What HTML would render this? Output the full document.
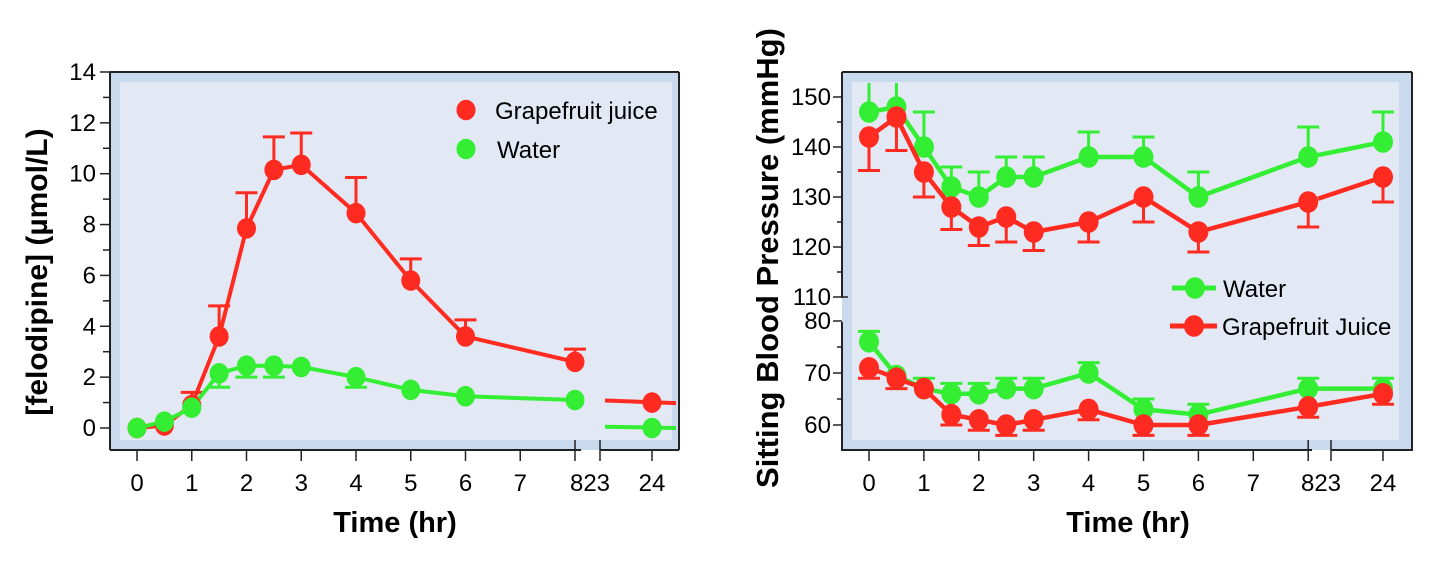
<!DOCTYPE html>
<html><head><meta charset="utf-8"><style>
html,body{margin:0;padding:0;background:#fff;width:1444px;height:572px;overflow:hidden}
text{font-family:"Liberation Sans Narrow","Liberation Sans",Arial,sans-serif}
.b{font-family:"Liberation Sans",Arial,sans-serif}
</style></head><body>
<svg id="s" width="1444" height="572" viewBox="0 0 1444 572" xmlns="http://www.w3.org/2000/svg"></svg>
<script>
const R="#ff2a20",G="#33ee33";
let h='';
function L(x1,y1,x2,y2,c,w){h+=`<line x1="${x1}" y1="${y1}" x2="${x2}" y2="${y2}" stroke="${c}" stroke-width="${w}"/>`;}
function C(x,y,c,r){h+=`<ellipse cx="${x}" cy="${y}" rx="${r||9.5}" ry="${(r||9.5)+0.8}" fill="${c}"/>`;}
function T(x,y,s,o){h+=`<text x="${x}" y="${y}" ${o||''}>${s}</text>`;}
function poly(pts,c,w){h+=`<polyline points="${pts.map(p=>p.join(',')).join(' ')}" fill="none" stroke="${c}" stroke-width="${w}" stroke-linejoin="round"/>`;}
const TF='font-size="24"';
// ---------- LEFT ----------
{
const X=t=>t==24?652:137+t*54.75, Y=v=>428-v*25.43;
h+=`<rect x="110" y="72" width="569" height="378" fill="#c9d9ee"/>`;
h+=`<rect x="120" y="82" width="552" height="358" fill="#e2e9f5"/>`;
L(110,72,679,72,"#222",2);L(679,72,679,450,"#222",2);
L(110,72,110,450,"#222",2);L(110,450,581,450,"#222",2);L(600,450,679,450,"#222",2);
for(let v=0;v<=14;v++){const y=Y(v);L(v%2?103:100,y,110,y,"#222",1.5);if(v%2==0)T(96,y+8,v,TF+' text-anchor="end"');}
[0,1,2,3,4,5,6,7,8,24].forEach(t=>{L(X(t),450,X(t),461,"#222",1.5);});
L(600,440,600,461,"#222",1.5);L(X(8),440,X(8),450,"#222",1.5);
[0,1,2,3,4,5,6,7].forEach(t=>T(X(t),491,t,TF+' text-anchor="middle"'));
T(590,491,"823",TF+' text-anchor="middle"');T(652,491,"24",TF+' text-anchor="middle"');
T(395,532,"Time (hr)",'class="b" font-size="29" font-weight="bold" text-anchor="middle"');
T(0,0,"[felodipine] (µmol/L)",'class="b" font-size="30" font-weight="bold" text-anchor="middle" transform="translate(47,272) rotate(-90)"');
const gt=[0,.5,1,1.5,2,2.5,3,4,5,6,8],gv=[0,.1,.9,3.6,7.85,10.15,10.35,8.45,5.8,3.6,2.6];
const ge={1:1.4,1.5:4.8,2:9.25,2.5:11.45,3:11.6,4:9.85,5:6.65,6:4.25,8:3.1};
const wv=[0,.25,.8,2.15,2.45,2.45,2.4,2.0,1.5,1.25,1.1];
const we={1.5:1.6,2:2.0,2.5:2.0,4:1.6};
for(const t in ge){L(X(+t),Y(gv[gt.indexOf(+t)]),X(+t),Y(ge[t]),R,3);L(X(+t)-11,Y(ge[t]),X(+t)+11,Y(ge[t]),R,3);}
for(const t in we){L(X(+t),Y(wv[gt.indexOf(+t)]),X(+t),Y(we[t]),G,3);L(X(+t)-11,Y(we[t]),X(+t)+11,Y(we[t]),G,3);}
poly(gt.map((t,i)=>[X(t),Y(gv[i])]),R,4);
poly(gt.map((t,i)=>[X(t),Y(wv[i])]),G,4);
L(605,Y(1.08),676,Y(0.98),R,4);L(605,Y(0.05),676,Y(0),G,4);
gt.forEach((t,i)=>C(X(t),Y(gv[i]),R));C(652,Y(1),R);
gt.forEach((t,i)=>C(X(t),Y(wv[i]),G));C(652,Y(0),G);
C(466,110,R);T(495,119,"Grapefruit juice",TF);
C(466,149,G);T(497,158,"Water",TF);
}
// ---------- RIGHT ----------
{
const X=t=>t==24?1383:869+t*54.9;
const Y=v=>v>=105?97+(150-v)*5.0:321+(80-v)*5.2;
h+=`<rect x="842" y="72" width="570" height="378" fill="#c9d9ee"/>`;
h+=`<rect x="852" y="82" width="547" height="358" fill="#e2e9f5"/>`;
L(842,72,1412,72,"#222",2);L(1412,72,1412,451,"#222",2);
L(842,72,842,298,"#222",2);L(842,322,842,451,"#222",2);
L(842,450,1312,450,"#222",2);L(1331,450,1412,450,"#222",2);
[150,140,130,120,110].forEach(v=>{L(833,Y(v),v==110?848:842,Y(v),"#222",1.5);T(831,Y(v)+8,v,TF+' text-anchor="end"');});
[145,135,125,115].forEach(v=>L(837,Y(v),842,Y(v),"#222",1.5));
[80,70,60].forEach(v=>{L(833,Y(v),842,Y(v),"#222",1.5);T(831,Y(v)+8,v,TF+' text-anchor="end"');});
[75,65].forEach(v=>L(837,Y(v),842,Y(v),"#222",1.5));
[0,1,2,3,4,5,6,7,8,24].forEach(t=>{L(X(t),450,X(t),461,"#222",1.5);});
L(1331,440,1331,461,"#222",1.5);L(X(8),440,X(8),450,"#222",1.5);
[0,1,2,3,4,5,6,7].forEach(t=>T(X(t),491,t,TF+' text-anchor="middle"'));
T(1321,491,"823",TF+' text-anchor="middle"');T(1383,491,"24",TF+' text-anchor="middle"');
T(1128,532,"Time (hr)",'class="b" font-size="29" font-weight="bold" text-anchor="middle"');
T(0,0,"Sitting Blood Pressure (mmHg)",'class="b" font-size="31" font-weight="bold" text-anchor="middle" transform="translate(778,258) rotate(-90)"');
const tt=[0,.5,1,1.5,2,2.5,3,4,5,6,8,24];
const ws=[147,148,140,132,130,134,134,138,138,130,138,141], wse=[152.8,152.8,147,136,135,138,138,143,142,135,144,147];
const gs=[142,146,135,128,124,126,123,125,130,123,129,134], gse=[135.3,139.3,130,123.5,120.3,121,119.3,121,125,119,124,129];
const wd=[76,69.5,67,66,66,67,67,70,63,62,67,67], wde=[78,69.5,69,68,68,69,69,72,65,64,69,69];
const gd=[71,69,67,62,61,60,61,63,60,60,63.5,66], gde=[69,67,67,60,59,58,59,61,58,58,61.5,64];
function ser(v,e,c){
 tt.forEach((t,i)=>{if(e[i]!=v[i]){L(X(t),Y(v[i]),X(t),Y(e[i]),c,3);if(!(c==G&&i<2&&e[i]>150))L(X(t)-11,Y(e[i]),X(t)+11,Y(e[i]),c,3);}});
 poly(tt.slice(0,11).map((t,i)=>[X(t),Y(v[i])]),c,4.5);
 const y8=Y(v[10]),y24=Y(v[11]);const f=(1318-X(8))/(1383-X(8));
 L(1318,y8+(y24-y8)*f,1383,y24,c,4.5);
 tt.forEach((t,i)=>C(X(t),Y(v[i]),c,10));
}
ser(ws,wse,G);ser(gs,gse,R);ser(wd,wde,G);ser(gd,gde,R);
L(1172,288,1216,288,G,5);C(1195,288,G,10);T(1223,297,"Water",TF);
L(1170,326,1217,326,R,5);C(1194,326,R,10);T(1222,335,"Grapefruit Juice",TF);
}
document.getElementById('s').innerHTML=h;
</script>
</body></html>
